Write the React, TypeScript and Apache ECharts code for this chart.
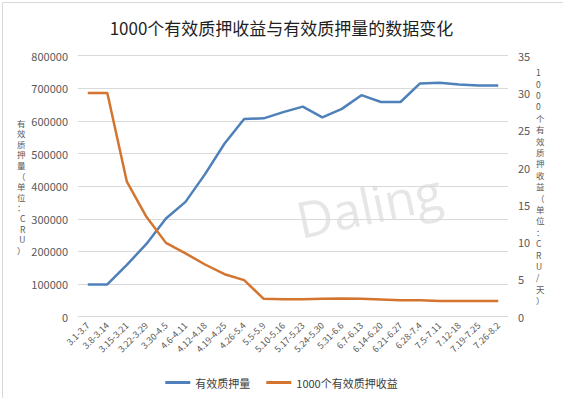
import React, { useEffect, useRef } from "react";
import * as echarts from "echarts";

const categories = [
  "3.1-3.7", "3.8-3.14", "3.15-3.21", "3.22-3.29", "3.30-4.5", "4.6-4.11",
  "4.12-4.18", "4.19-4.25", "4.26-5.4", "5.5-5.9", "5.10-5.16", "5.17-5.23",
  "5.24-5.30", "5.31-6.6", "6.7-6.13", "6.14-6.20", "6.21-6.27", "6.28-7.4",
  "7.5-7.11", "7.12-18", "7.19-7.25", "7.26-8.2",
];

const pledgeAmount = [
  99000, 99000, 159000, 223000, 301000, 352000, 437000, 531000, 606000, 608000,
  627000, 644000, 611000, 637000, 679000, 658000, 658000, 715000, 717000,
  712000, 709000, 709000,
];

const rewardPer1000 = [
  30, 30, 18.1, 13.4, 9.9, 8.5, 7.0, 5.7, 4.9, 2.4, 2.35, 2.35, 2.4, 2.45, 2.4,
  2.3, 2.2, 2.2, 2.1, 2.1, 2.1, 2.1,
];

const seriesNames = ["有效质押量", "1000个有效质押收益"];
const titleText = "1000个有效质押收益与有效质押量的数据变化";
const leftAxisName = "有效质押量（单位：CRU）";
const rightAxisName = "1000个有效质押收益（单位：CRU/天）";
const watermark = "Daling";

const FONT = '"Noto Sans CJK SC", "Noto Sans", sans-serif';

export default function App() {
  const ref = useRef<HTMLDivElement>(null);

  useEffect(() => {
    document.body.style.margin = "0";
    if (!ref.current) return;
    const chart = echarts.init(ref.current, null, { renderer: "svg" });
    const vertical = (s: string) => s.split("").join("\n");
    chart.setOption({
      animation: false,
      backgroundColor: "#ffffff",
      textStyle: { fontFamily: FONT },
      title: {
        text: titleText,
        left: "center",
        top: 14,
        textStyle: { fontSize: 17, fontWeight: "normal", color: "#1f1f1f", fontFamily: FONT },
      },
      grid: { left: 78, right: 55, top: 55.7, bottom: 81.3, containLabel: false },
      legend: {
        data: seriesNames,
        left: "center",
        top: 372,
        icon: "rect",
        itemWidth: 25,
        itemHeight: 3,
        itemGap: 16,
        textStyle: { fontSize: 11, color: "#404040", fontFamily: FONT },
      },
      xAxis: {
        type: "category",
        data: categories,
        boundaryGap: true,
        axisLine: { lineStyle: { color: "#d9d9d9", width: 1 } },
        axisTick: { show: false },
        axisLabel: {
          rotate: 45,
          fontSize: 9,
          color: "#595959",
          interval: 0,
          margin: 7,
          fontFamily: FONT,
        },
      },
      yAxis: [
        {
          type: "value",
          min: 0,
          max: 800000,
          interval: 100000,
          name: vertical(leftAxisName),
          nameLocation: "middle",
          nameRotate: 0,
          nameGap: 52,
          nameTextStyle: { fontSize: 8.5, color: "#595959", lineHeight: 10.6, fontFamily: FONT },
          axisLine: { show: false },
          axisTick: { show: false },
          axisLabel: {
            fontSize: 11,
            color: "#595959",
            margin: 10,
            fontFamily: FONT,
            formatter: (v: number) => String(v),
          },
          splitLine: { lineStyle: { color: "#d9d9d9", width: 1 } },
        },
        {
          type: "value",
          min: 0,
          max: 35,
          interval: 5,
          name: vertical(rightAxisName),
          nameLocation: "middle",
          nameRotate: 0,
          nameGap: 26,
          nameTextStyle: { fontSize: 8.5, color: "#595959", lineHeight: 11.4, fontFamily: FONT },
          axisLine: { show: false },
          axisTick: { show: false },
          axisLabel: { fontSize: 11, color: "#595959", margin: 10, fontFamily: FONT },
          splitLine: { show: false },
        },
      ],
      graphic: [
        {
          type: "rect",
          left: 0,
          top: 0,
          shape: { x: 0.5, y: 0.5, width: 562, height: 397 },
          style: { fill: "none", stroke: "#d9d9d9", lineWidth: 1 },
          silent: true,
        },
        {
          type: "text",
          x: 369,
          y: 205,
          rotation: (12 * Math.PI) / 180,
          style: {
            text: watermark,
            fontSize: 50,
            fontFamily: '"Open Sans", "Noto Sans", sans-serif',
            fill: "rgba(200,200,200,0.45)",
            align: "center",
            verticalAlign: "middle",
          },
          silent: true,
          z: 0,
        },
      ],
      series: [
        {
          name: seriesNames[0],
          type: "line",
          yAxisIndex: 0,
          data: pledgeAmount,
          symbol: "none",
          lineStyle: { color: "#4e80b9", width: 2.5 },
          itemStyle: { color: "#4e80b9" },
          z: 3,
        },
        {
          name: seriesNames[1],
          type: "line",
          yAxisIndex: 1,
          data: rewardPer1000,
          symbol: "none",
          lineStyle: { color: "#d3752f", width: 2.5 },
          itemStyle: { color: "#d3752f" },
          z: 3,
        },
      ],
    });
    return () => chart.dispose();
  }, []);

  return (
    <div
      ref={ref}
      style={{ position: "absolute", left: 0, top: 0, width: 563, height: 398 }}
    />
  );
}
